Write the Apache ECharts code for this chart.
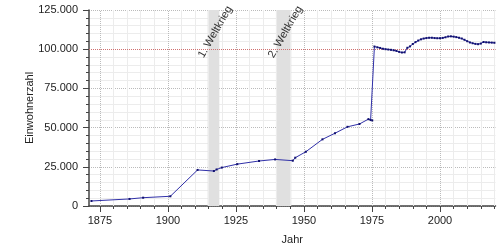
<!DOCTYPE html>
<html><head><meta charset="utf-8">
<script src="https://cdn.jsdelivr.net/npm/echarts@6/dist/echarts.min.js"></script>
<style>html,body{margin:0;padding:0;background:#fff}#c{width:500px;height:250px}</style>
</head><body><div id="c"></div>
<script>
// Population data (year as fractional date, inhabitants)
const years = [1871.9, 1885.9, 1890.9, 1900.9, 1910.9, 1916.9, 1917.9, 1919.8, 1925.5, 1933.5,
  1939.4, 1945.9, 1946.8, 1950.7, 1956.8, 1961.4, 1966.0, 1970.4, 1973.7, 1974.5, 1975.1, 1975.9,
  1977, 1978, 1979, 1980, 1981, 1982, 1983, 1984, 1985, 1986, 1987, 1988, 1989, 1990,
  1991, 1992, 1993, 1994, 1995, 1996, 1997, 1998, 1999, 2000, 2001, 2002, 2003, 2004,
  2005, 2006, 2007, 2008, 2009, 2010, 2011, 2012, 2013, 2014, 2015, 2016, 2017, 2018, 2019, 2020];
const population = [3200, 4500, 5300, 6200, 23000, 22300, 23300, 24500, 26700, 28700,
  29700, 28900, 30800, 34600, 42500, 46400, 50500, 52300, 55400, 54800, 54600, 101700,
  101200, 100800, 100300, 100000, 99800, 99600, 99300, 98900, 98300, 97900, 98000, 100900, 101800, 103300,
  104500, 105500, 106300, 106800, 107100, 107300, 107300, 107100, 107000, 107000, 107200, 107600, 108100, 108200,
  108000, 107700, 107300, 106800, 106000, 105100, 104300, 103800, 103400, 103200, 103600, 104600, 104400, 104300, 104200, 104100];

const xLabelValues = [1875, 1900, 1925, 1950, 1975, 2000];
const xMinorTickValues = [];
for (let y = 1875; y <= 2020; y += 5) xMinorTickValues.push(y);

const warNames = ['1. Weltkrieg', '2. Weltkrieg'];
const warStart = [1914.6, 1939.7];
const warEnd = [1918.9, 1945.35];
const warLabelYear = [1917.4, 1943.2];
const warLabelValue = [111000, 111000];

const referenceLine = 100000;

const FONT = 'Liberation Sans, Arial, sans-serif';
const X_MIN = 1871, X_MAX = 2020.4;

const fmt = v => v.toString().replace(/\B(?=(\d{3})+(?!\d))/g, '.');

const chart = echarts.init(document.getElementById('c'), null, {renderer: 'canvas'});
chart.setOption({
  animation: false,
  backgroundColor: '#fff',
  grid: {left: 89, right: 4.5, top: 10, bottom: 44, containLabel: false},
  xAxis: [{
    type: 'value', min: X_MIN, max: X_MAX,
    name: 'Jahr', nameLocation: 'middle', nameGap: 28, nameMoveOverlap: false,
    nameTextStyle: {fontFamily: FONT, fontSize: 11, color: '#222'},
    axisLine: {show: true, onZero: false, lineStyle: {color: '#444', width: 1.5}},
    axisTick: {show: true, length: 3, customValues: xMinorTickValues, lineStyle: {color: '#444', width: 1}},
    axisLabel: {show: false},
    splitLine: {show: false}
  }, {
    type: 'value', min: X_MIN, max: X_MAX, position: 'bottom',
    axisLine: {show: false, onZero: false},
    axisTick: {show: true, length: 6, customValues: xLabelValues, lineStyle: {color: '#444', width: 1}},
    axisLabel: {show: true, customValues: xLabelValues, margin: 9, fontFamily: FONT, fontSize: 11, color: '#222',
      formatter: v => String(v)},
    splitLine: {show: false}
  }],
  yAxis: {
    type: 'value', min: 0, max: 125000, interval: 25000,
    name: 'Einwohnerzahl', nameLocation: 'middle', nameGap: 54, nameMoveOverlap: false,
    nameTextStyle: {fontFamily: FONT, fontSize: 11, color: '#222'},
    axisLine: {show: true, lineStyle: {color: '#444', width: 1.5}},
    axisTick: {show: true, length: 6, lineStyle: {color: '#444'}},
    minorTick: {show: true, splitNumber: 5, length: 3, lineStyle: {color: '#444'}},
    axisLabel: {margin: 11, fontFamily: FONT, fontSize: 11, color: '#222', formatter: v => fmt(v)},
    splitLine: {show: true, lineStyle: {color: '#bbb', type: 'dotted', width: 1}},
    minorSplitLine: {show: true, lineStyle: {color: '#ececec', width: 1}}
  },
  series: [
    { // vertical grid lines
      type: 'line', data: [], z: 1, silent: true,
      markLine: {silent: true, symbol: 'none', label: {show: false}, animation: false,
        lineStyle: {color: '#ececec', type: 'solid', width: 1},
        data: xMinorTickValues.filter(v => v % 25 !== 0).map(v => ({xAxis: v}))}
    },
    {
      type: 'line', data: [], z: 1, silent: true,
      markLine: {silent: true, symbol: 'none', label: {show: false}, animation: false,
        lineStyle: {color: '#bbb', type: 'dotted', width: 1},
        data: xLabelValues.map(v => ({xAxis: v}))}
    },
    { // war bands
      type: 'line', data: [], z: 2, silent: true,
      markArea: {silent: true, itemStyle: {color: '#e0e0e0'}, label: {show: false},
        data: warStart.map((s, i) => [{xAxis: s}, {xAxis: warEnd[i]}])}
    },
    { // reference line
      type: 'line', data: [], z: 3, silent: true,
      markLine: {silent: true, symbol: 'none', label: {show: false}, animation: false,
        lineStyle: {color: '#d07070', type: 'dotted', width: 1},
        data: [{yAxis: referenceLine}]}
    },
    { // population
      type: 'line', z: 5,
      data: years.map((y, i) => [y, population[i]]),
      showSymbol: true, symbol: 'rect', symbolSize: 2,
      itemStyle: {color: '#10106e'},
      lineStyle: {color: '#3030a8', width: 1}
    }
  ]
});

// War labels, positioned through the chart's own scales
const labels = warNames.map((n, i) => {
  const p = chart.convertToPixel({xAxisIndex: 0, yAxisIndex: 0}, [warLabelYear[i], warLabelValue[i]]);
  return {
    type: 'text', x: p[0], y: p[1], rotation: Math.PI / 3, z: 100, silent: true,
    style: {text: n, fill: '#333', font: '11px ' + FONT, align: 'center', verticalAlign: 'middle'}
  };
});
chart.setOption({graphic: labels});
</script>
</body></html>
